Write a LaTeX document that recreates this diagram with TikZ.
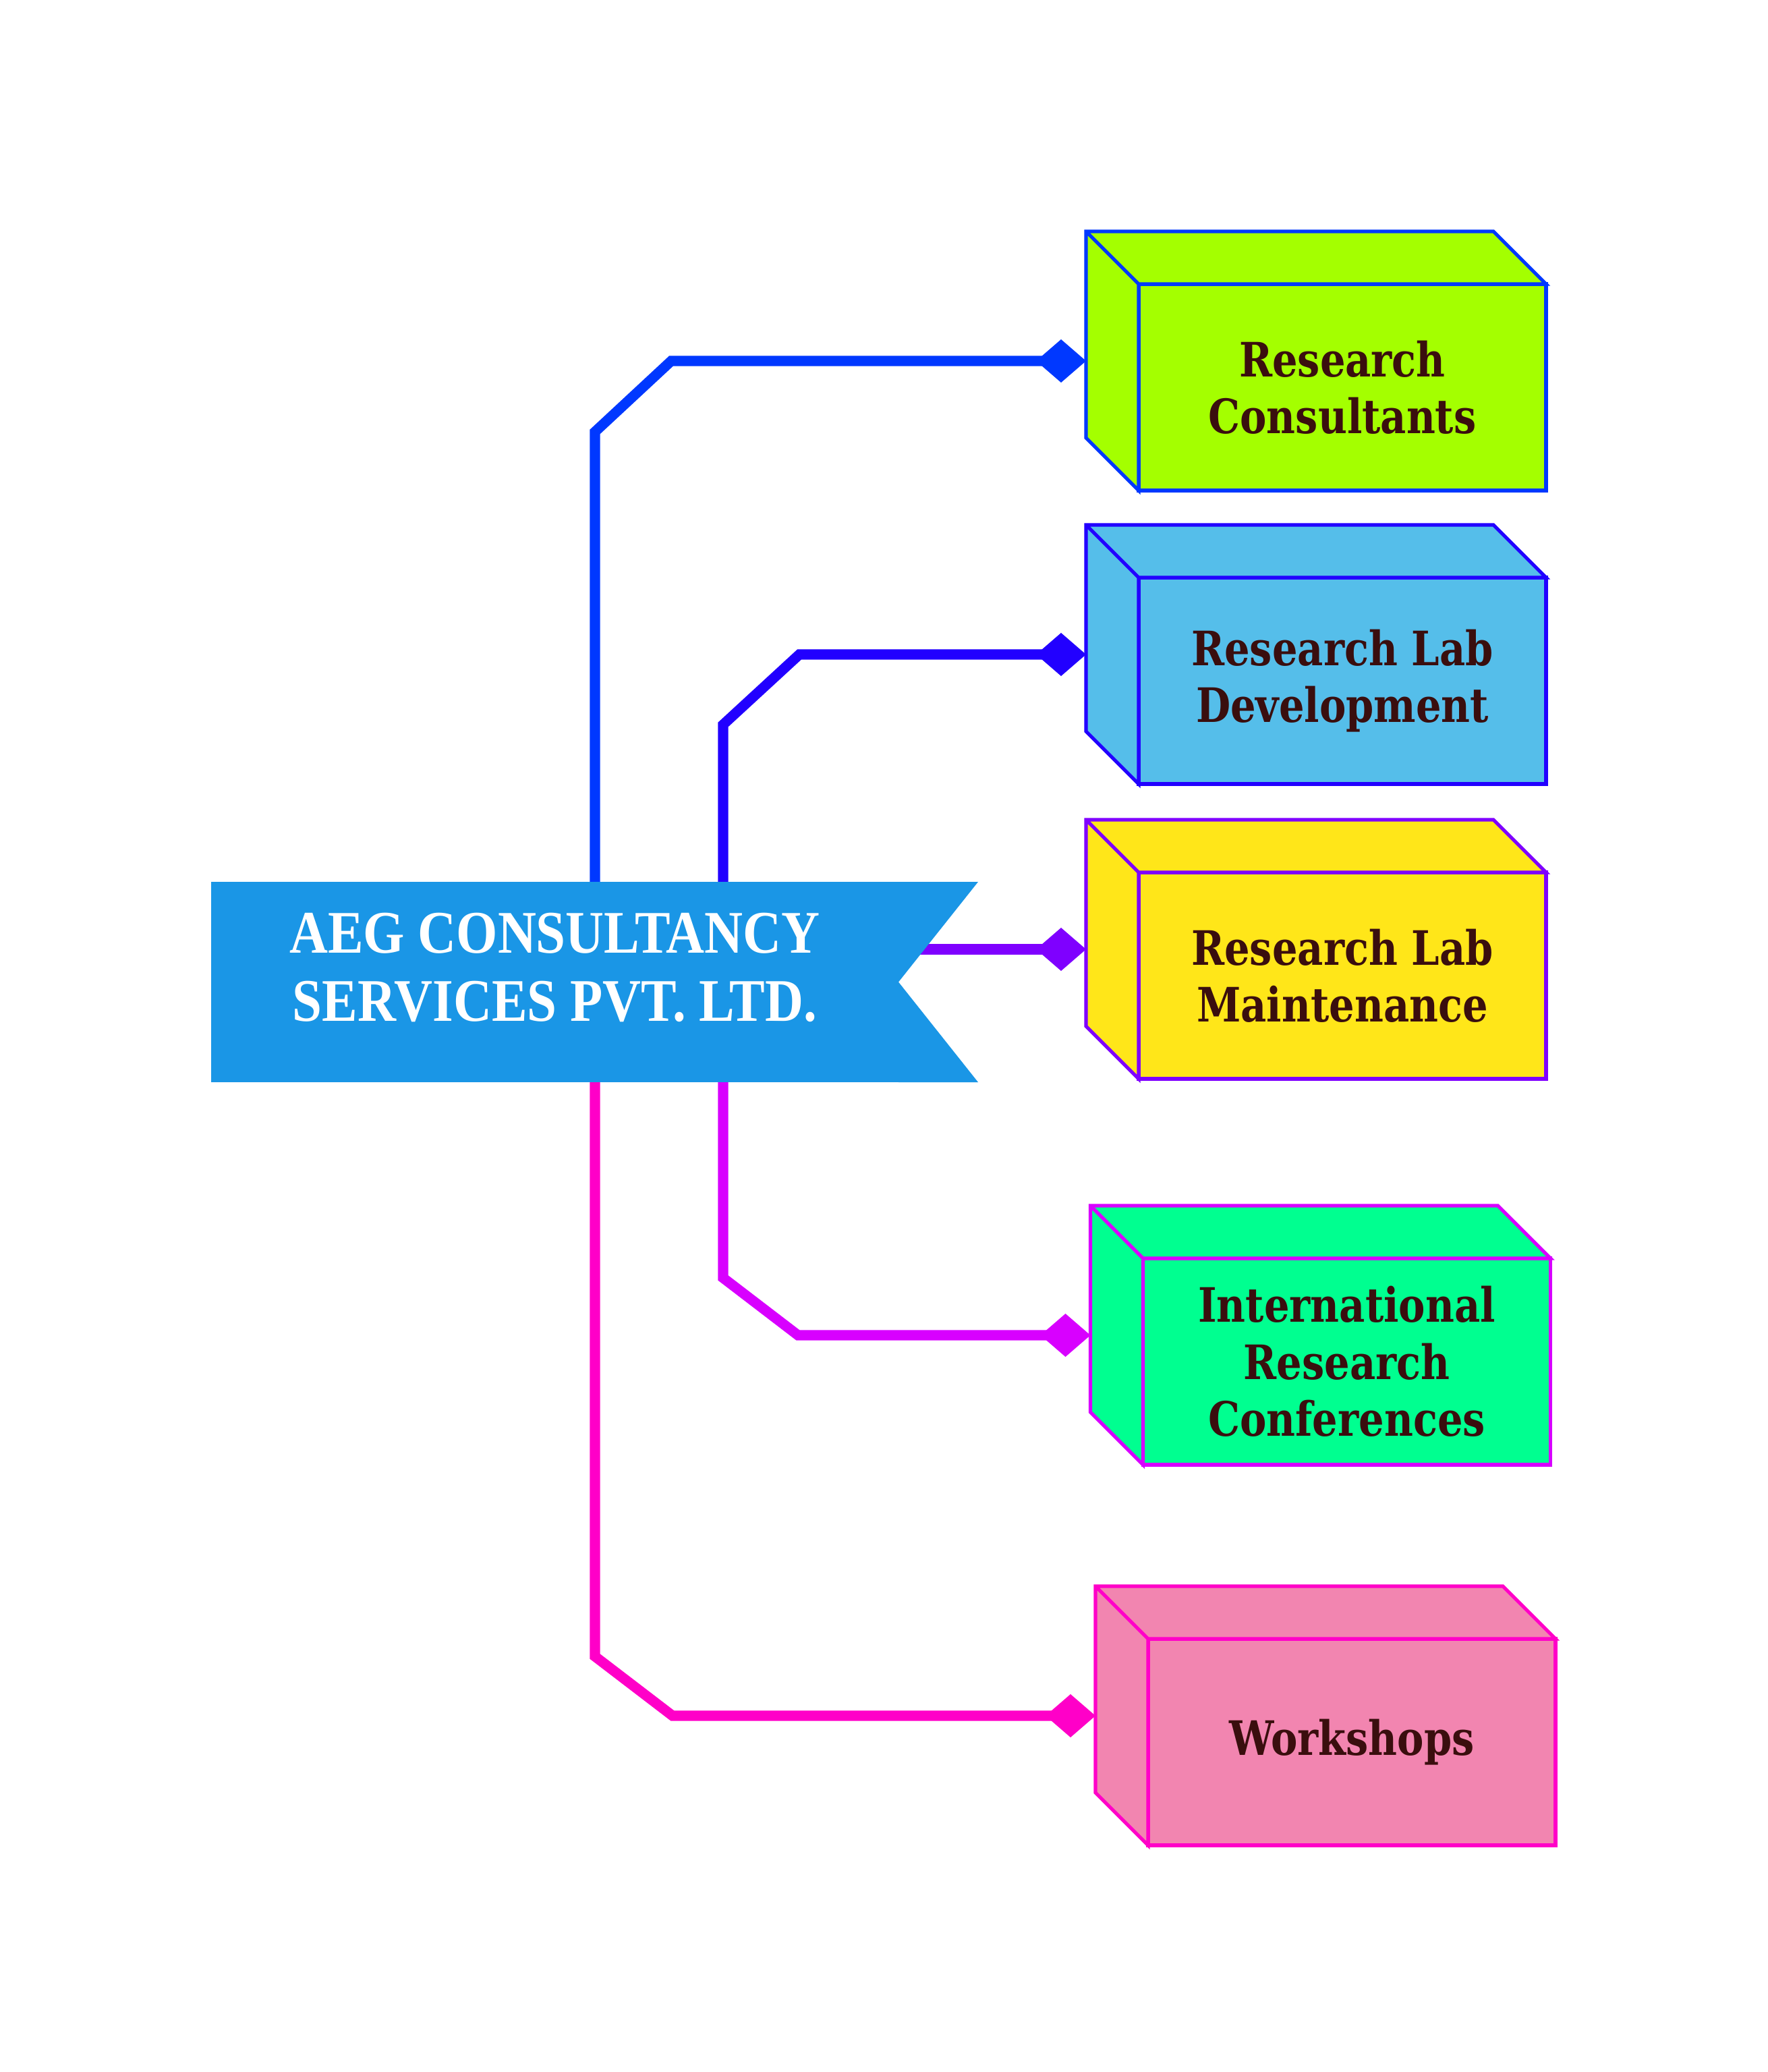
\documentclass[tikz,border=0pt]{standalone}
\usepackage{fontspec}
\usepackage{xcolor}
\usepackage{tikz}
\usetikzlibrary{calc}
\usetikzlibrary{arrows.meta}
\usetikzlibrary{backgrounds}
\newfontfamily\bannerfont[FakeStretch=0.88]{Liberation Serif}
\newfontfamily\boxfont[FakeStretch=0.84]{DejaVu Serif}
\definecolor{bannerblue}{HTML}{1A96E6}
\definecolor{boxtext}{HTML}{3A0E0E}
\definecolor{boxlime}{HTML}{A4FF00}
\definecolor{boxsky}{HTML}{55BEEA}
\definecolor{boxsun}{HTML}{FFE619}
\definecolor{boxmint}{HTML}{00FF90}
\definecolor{boxrose}{HTML}{F285B0}
\definecolor{lineA}{HTML}{0038FF}
\definecolor{lineB}{HTML}{2200FF}
\definecolor{lineC}{HTML}{7F00FF}
\definecolor{lineD}{HTML}{D800FF}
\definecolor{lineE}{HTML}{FF00C8}
\tikzset{ cube_face/.style = {rectangle, draw, line width=1.5pt, outer sep=0pt, minimum width=6.04cm, minimum height=3.06cm, align=center, text=boxtext, font=\boxfont\bfseries\fontsize{20}{24}\selectfont} }
\tikzset{ side_face/.style = {line width=1.5pt} }
\tikzset{ link/.style = {line width=4.3pt, -{Diamond[length=7.4mm,width=6.4mm]}} }

\begin{document}
\begin{tikzpicture}
        \useasboundingbox (0,0) rectangle (26.21,-30.71);
        % company banner
        \node[fill=bannerblue, outer sep=0pt, inner sep=0pt, minimum width=10.19cm, minimum height=2.97cm, align=center, text=white, text depth=0.44cm, font=\bannerfont\bfseries\fontsize{25.5}{28.7}\selectfont] (0) at (8.225,-14.555) {AEG CONSULTANCY\\SERVICES PVT. LTD.};
        \fill[bannerblue] (0.north east) -- ++(1.18,0) -- (0.east) -- ++(1.18,-1.485) -- (0.south east) -- cycle;
        % service boxes
        \node[cube_face, fill=boxlime, draw=lineA] (1) at (19.90,-5.74) {Research\\Consultants};
        \node[cube_face, fill=boxsky, draw=lineB] (2) at (19.90,-10.09) {Research Lab\\Development};
        \node[cube_face, fill=boxsun, draw=lineC] (3) at (19.90,-14.46) {Research Lab\\Maintenance};
        \node[cube_face, fill=boxmint, draw=lineD] (4) at (19.965,-20.18) {International\\Research\\Conferences};
        \node[cube_face, fill=boxrose, draw=lineE] (5) at (20.04,-25.82) {Workshops};
        \draw[side_face, fill=boxlime, draw=lineA] (1.south west) -- ++(-0.78,0.78) |- ($(1.north east)+(-0.78,0.78)$) -- (1.north east) -- (1.north west) -- cycle (1.north west) -- ++(-0.78,0.78);
        \draw[side_face, fill=boxsky, draw=lineB] (2.south west) -- ++(-0.78,0.78) |- ($(2.north east)+(-0.78,0.78)$) -- (2.north east) -- (2.north west) -- cycle (2.north west) -- ++(-0.78,0.78);
        \draw[side_face, fill=boxsun, draw=lineC] (3.south west) -- ++(-0.78,0.78) |- ($(3.north east)+(-0.78,0.78)$) -- (3.north east) -- (3.north west) -- cycle (3.north west) -- ++(-0.78,0.78);
        \draw[side_face, fill=boxmint, draw=lineD] (4.south west) -- ++(-0.78,0.78) |- ($(4.north east)+(-0.78,0.78)$) -- (4.north east) -- (4.north west) -- cycle (4.north west) -- ++(-0.78,0.78);
        \draw[side_face, fill=boxrose, draw=lineE] (5.south west) -- ++(-0.78,0.78) |- ($(5.north east)+(-0.78,0.78)$) -- (5.north east) -- (5.north west) -- cycle (5.north west) -- ++(-0.78,0.78);
        % connectors
        \coordinate (t1) at (8.82,0);
        \coordinate (t2) at (10.72,0);
        \coordinate (p1) at ($(1.west)+(-0.78,0.39)$);
        \coordinate (p2) at ($(2.west)+(-0.78,0.39)$);
        \coordinate (p3) at ($(3.west)+(-0.78,0.39)$);
        \coordinate (p4) at ($(4.west)+(-0.78,0.39)$);
        \coordinate (p5) at ($(5.west)+(-0.78,0.39)$);
        \begin{scope}[on background layer]
        \draw[link, lineA] (0.center -| t1) -- (8.82,-6.40) -- (9.95,-5.35) -- (p1);
        \draw[link, lineB] (0.center -| t2) -- (10.72,-10.74) -- (11.85,-9.70) -- (p2);
        \draw[link, lineC] (0.center |- p3) -- (p3);
        \draw[link, lineD] (0.center -| t2) -- (10.72,-18.94) -- (11.83,-19.79) -- (p4);
        \draw[link, lineE] (0.center -| t1) -- (8.82,-24.55) -- (9.97,-25.43) -- (p5);
        \end{scope}
    \end{tikzpicture}
\end{document}
